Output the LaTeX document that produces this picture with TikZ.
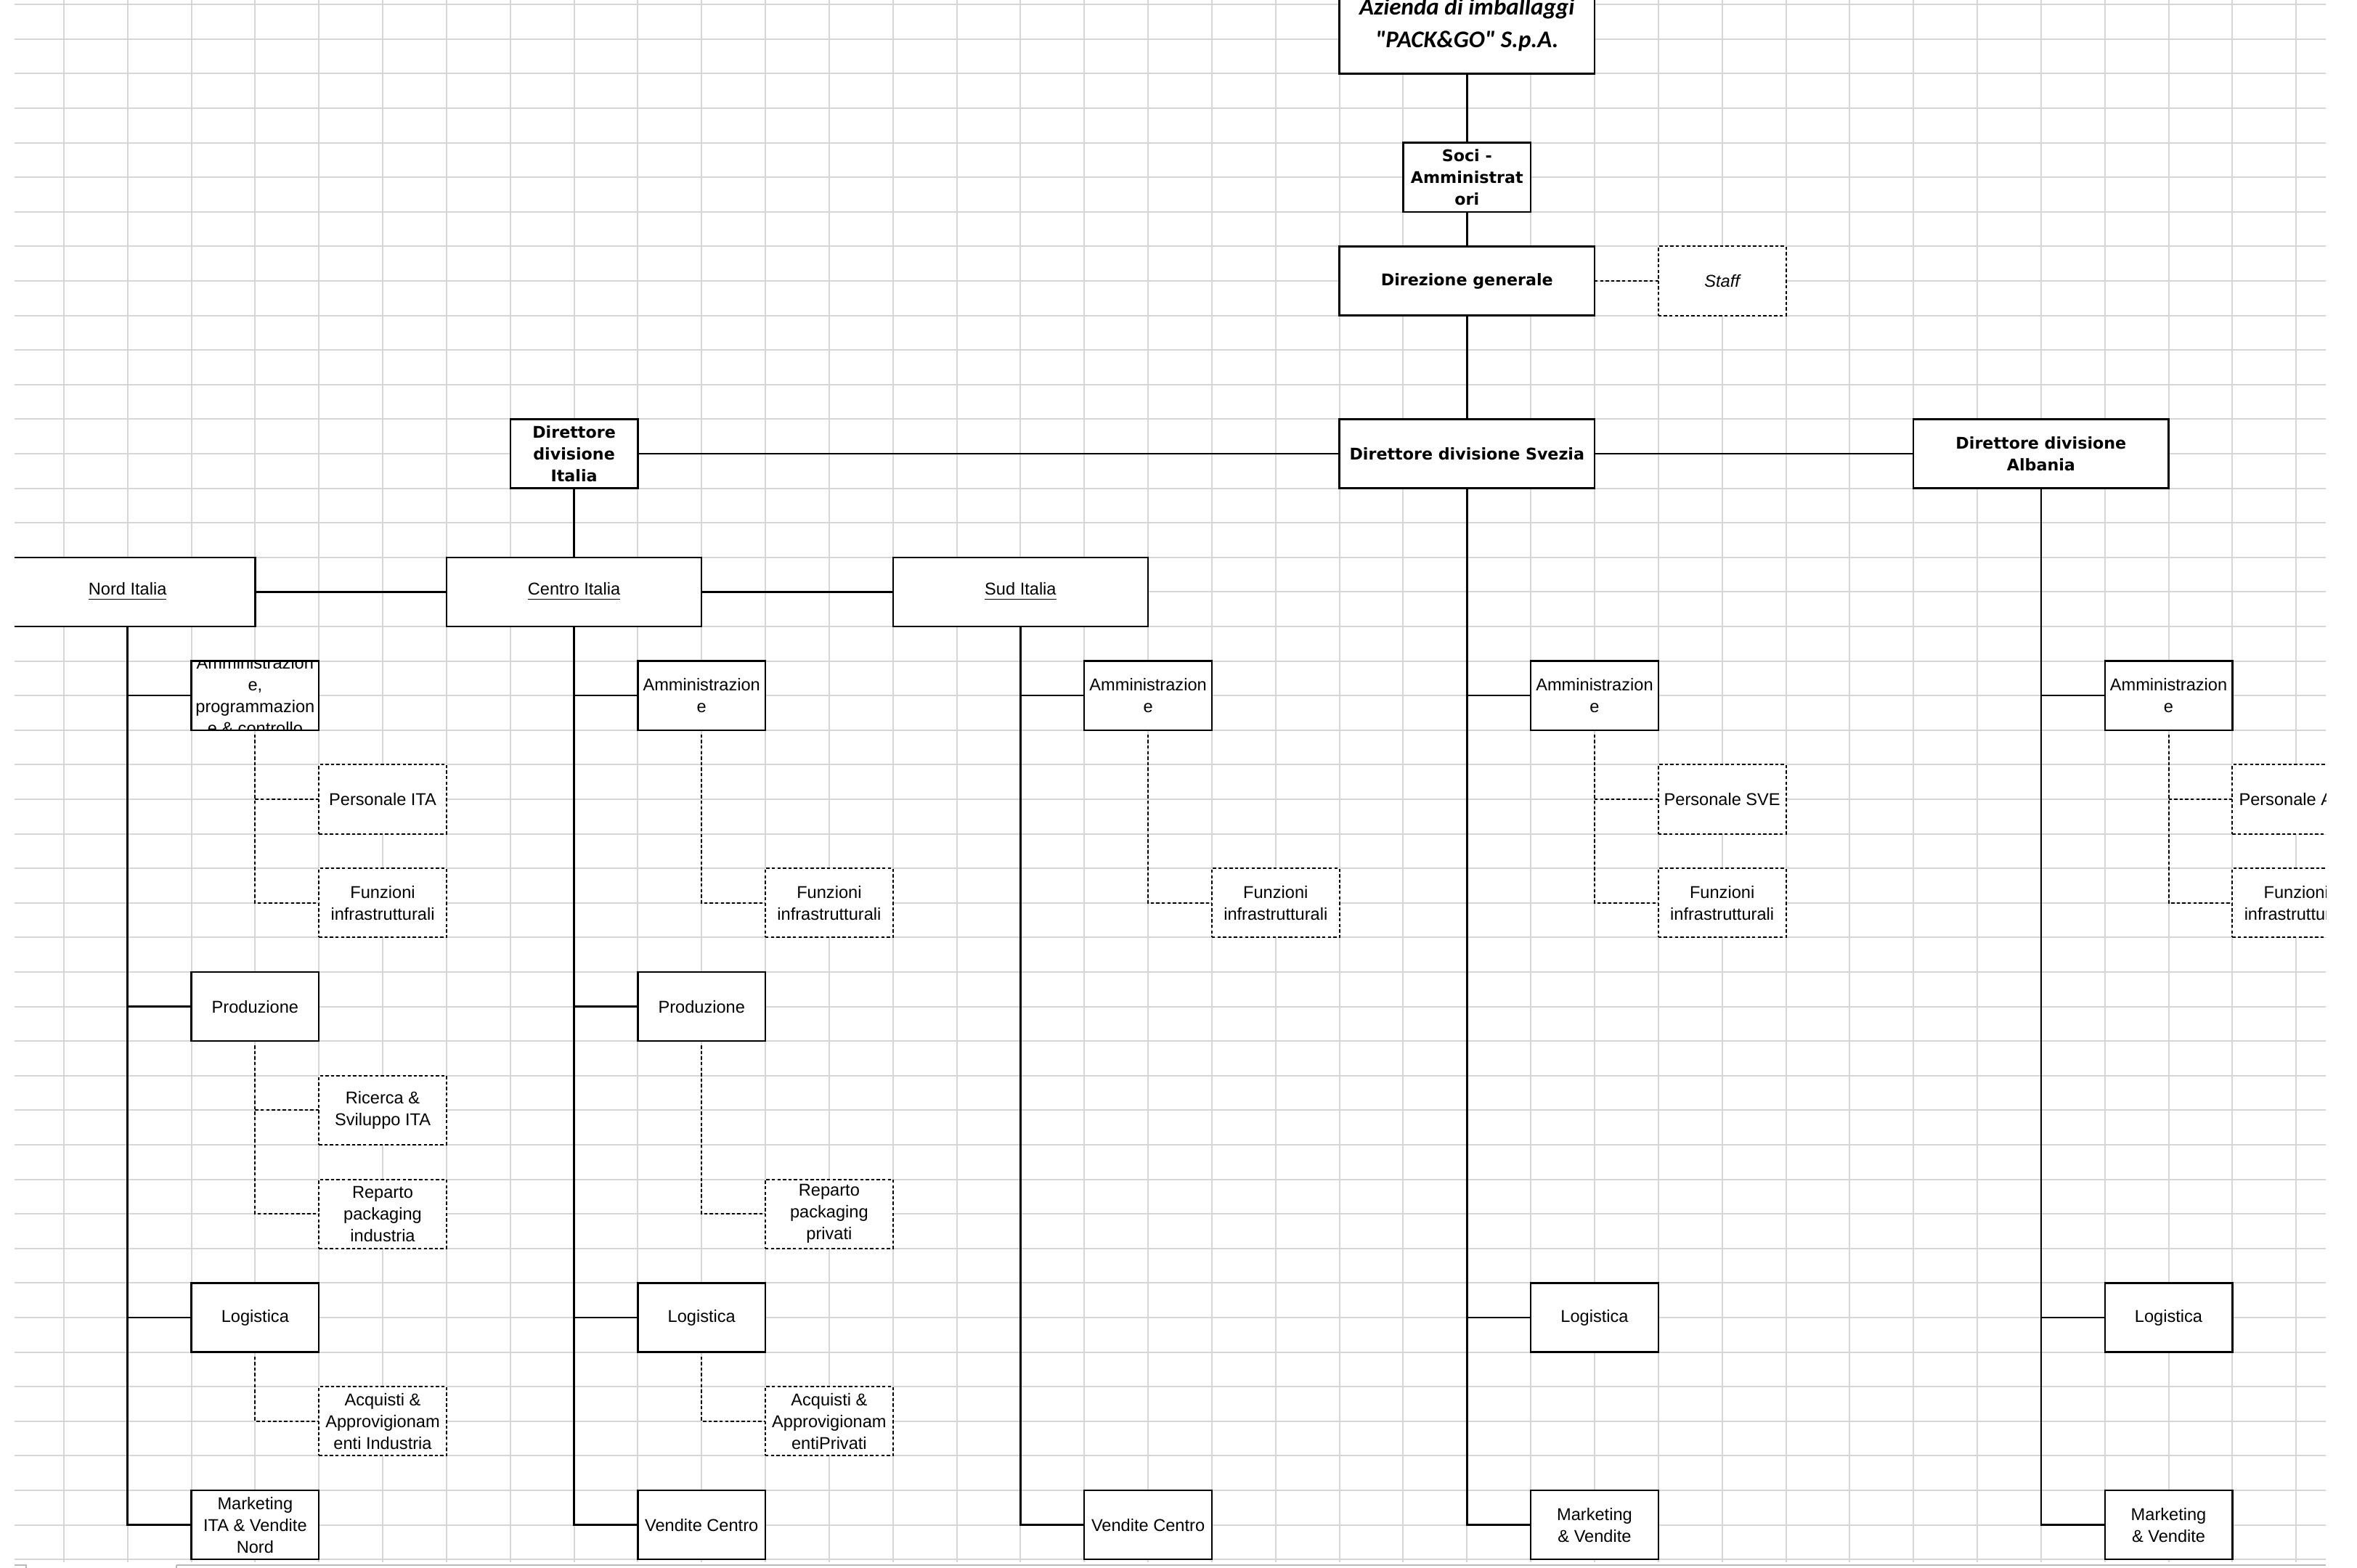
\documentclass[tikz,border=0pt]{standalone}
\usepackage{fontspec}
\setmainfont{Liberation Sans}
\newfontfamily\ttlfam{DejaVu Sans}
\newfontfamily\topfam{Carlito}
\newcommand\mytxt{\fontsize{5.9pt}{7.5pt}\selectfont}
\newcommand\myttl{\ttlfam\bfseries\fontsize{5.55pt}{7.45pt}\selectfont}
\newcommand\mytop{\topfam\bfseries\itshape\fontsize{8.25pt}{11.25pt}\selectfont}
\definecolor{gridgray}{RGB}{214,214,214}
\tikzset{
  gridln/.style={draw=gridgray, line width=0.5pt},
  box/.style={draw, line width=0.6pt, fill=white, inner sep=0.4pt, outer sep=0pt, align=center, font=\mytxt},
  dbox/.style={box, line width=0.5pt, dash pattern=on 1.1pt off 0.8pt},
  ttl/.style={box, font=\myttl},
  w2/.style={minimum width=43.92pt},
  w4/.style={minimum width=87.84pt},
  h2/.style={minimum height=23.8pt},
  h3/.style={minimum height=35.7pt},
  conn/.style={line width=0.6pt},
  dconn/.style={line width=0.5pt, dash pattern=on 1.1pt off 0.8pt},
}
\begin{document}
\begin{tikzpicture}[x=21.96pt, y=-11.9pt]
\useasboundingbox (0,-0.1303) rectangle (36.954,45.248);
\begin{scope}
\clip (0.2277,-0.2) rectangle (36.466,45.08);
% spreadsheet grid
\foreach \c in {1,...,36} \draw[gridln] (\c,-0.2) -- (\c,45.08);
\foreach \r in {0,...,45} \draw[gridln] (0,\r) -- (37,\r);

% top levels
\node[box, w4, h3, path picture={\node[font=\mytop, align=center, yshift=-1pt] at (path picture bounding box.center) {Azienda di imballaggi\\"PACK\&GO" S.p.A.};}] (top) at (23,0.5) {};
\node[ttl, w2, h2] (soci) at (23,5) {Soci -\\Amministrat\\ori};
\node[ttl, w4, h2] (dg) at (23,8) {Direzione generale};
\node[dbox, w2, h2] (staff) at (27,8) {\itshape Staff};
\node[ttl, w2, h2] (ita) at (9,13) {Direttore\\divisione\\Italia};
\node[ttl, w4, h2] (sve) at (23,13) {Direttore divisione Svezia};
\node[ttl, w4, h2] (alb) at (32,13) {Direttore divisione\\Albania};
\node[box, w4, h2] (nord) at (2,17) {\underline{Nord Italia}};
\node[box, w4, h2] (cen) at (9,17) {\underline{Centro Italia}};
\node[box, w4, h2] (sud) at (16,17) {\underline{Sud Italia}};

% Nord Italia
\node[box, w2, h2, path picture={\node[font=\mytxt, align=center] at (path picture bounding box.center) {Amministrazion\\e,\\programmazion\\e \& controllo};}] (nAmm) at (4,20) {};
\node[dbox, w2, h2] (nPers) at (6,23) {Personale ITA};
\node[dbox, w2, h2] (nFunz) at (6,26) {Funzioni\\infrastrutturali};
\node[box, w2, h2] (nProd) at (4,29) {Produzione};
\node[dbox, w2, h2] (nRic) at (6,32) {Ricerca \&\\Sviluppo ITA};
\node[dbox, w2, h2] (nRep) at (6,35) {Reparto\\packaging\\industria};
\node[box, w2, h2] (nLog) at (4,38) {Logistica};
\node[dbox, w2, h2] (nAcq) at (6,41) {Acquisti \&\\Approvigionam\\enti Industria};
\node[box, w2, h2] (nMkt) at (4,44) {Marketing\\ITA \& Vendite\\Nord};

% Centro Italia
\node[box, w2, h2] (cAmm) at (11,20) {Amministrazion\\e};
\node[dbox, w2, h2] (cFunz) at (13,26) {Funzioni\\infrastrutturali};
\node[box, w2, h2] (cProd) at (11,29) {Produzione};
\node[dbox, w2, h2] (cRep) at (13,35) {Reparto\\packaging\\privati};
\node[box, w2, h2] (cLog) at (11,38) {Logistica};
\node[dbox, w2, h2] (cAcq) at (13,41) {Acquisti \&\\Approvigionam\\entiPrivati};
\node[box, w2, h2] (cVen) at (11,44) {Vendite Centro};

% Sud Italia
\node[box, w2, h2] (sAmm) at (18,20) {Amministrazion\\e};
\node[dbox, w2, h2] (sFunz) at (20,26) {Funzioni\\infrastrutturali};
\node[box, w2, h2] (sVen) at (18,44) {Vendite Centro};

% Svezia
\node[box, w2, h2] (vAmm) at (25,20) {Amministrazion\\e};
\node[dbox, w2, h2] (vPers) at (27,23) {Personale SVE};
\node[dbox, w2, h2] (vFunz) at (27,26) {Funzioni\\infrastrutturali};
\node[box, w2, h2] (vLog) at (25,38) {Logistica};
\node[box, w2, h2] (vMkt) at (25,44) {Marketing\\\& Vendite};

% Albania
\node[box, w2, h2] (aAmm) at (34,20) {Amministrazion\\e};
\node[dbox, w2, h2] (aPers) at (36,23) {Personale ALB};
\node[dbox, w2, h2] (aFunz) at (36,26) {Funzioni\\infrastrutturali};
\node[box, w2, h2] (aLog) at (34,38) {Logistica};
\node[box, w2, h2] (aMkt) at (34,44) {Marketing\\\& Vendite};

% solid connectors
\draw[conn] (top.south) -- (soci.north);
\draw[conn] (soci.south) -- (dg.north);
\draw[conn] (dg.south) -- (sve.north);
\draw[conn] (ita.east) -- (sve.west);
\draw[conn] (sve.east) -- (alb.west);
\draw[conn] (ita.south) -- (cen.north);
\draw[conn] (nord.east) -- (cen.west);
\draw[conn] (cen.east) -- (sud.west);
\foreach \ch in {nAmm,nProd,nLog,nMkt} \draw[conn] (nord.south) |- (\ch.west);
\foreach \ch in {cAmm,cProd,cLog,cVen} \draw[conn] (cen.south) |- (\ch.west);
\foreach \ch in {sAmm,sVen} \draw[conn] (sud.south) |- (\ch.west);
\foreach \ch in {vAmm,vLog,vMkt} \draw[conn] (sve.south) |- (\ch.west);
\foreach \ch in {aAmm,aLog,aMkt} \draw[conn] (alb.south) |- (\ch.west);

% dotted connectors
\draw[dconn] (dg.east) -- (staff.west);
\draw[dconn] ([yshift=-1.5pt]nAmm.south) |- (nFunz.west);
\draw[dconn] (nAmm.south |- nPers.west) -- (nPers.west);
\draw[dconn] ([yshift=-1.5pt]nProd.south) |- (nRep.west);
\draw[dconn] (nProd.south |- nRic.west) -- (nRic.west);
\draw[dconn] ([yshift=-1.5pt]nLog.south) |- (nAcq.west);
\draw[dconn] ([yshift=-1.5pt]cAmm.south) |- (cFunz.west);
\draw[dconn] ([yshift=-1.5pt]cProd.south) |- (cRep.west);
\draw[dconn] ([yshift=-1.5pt]cLog.south) |- (cAcq.west);
\draw[dconn] ([yshift=-1.5pt]sAmm.south) |- (sFunz.west);
\draw[dconn] ([yshift=-1.5pt]vAmm.south) |- (vFunz.west);
\draw[dconn] (vAmm.south |- vPers.west) -- (vPers.west);
\draw[dconn] ([yshift=-1.5pt]aAmm.south) |- (aFunz.west);
\draw[dconn] (aAmm.south |- aPers.west) -- (aPers.west);
\end{scope}
% bottom scrollbar edge
\draw[draw=gray!55, line width=0.5pt] (2.77,45.158) -- (36.466,45.158);
\draw[draw=gray!55, line width=0.5pt] (2.77,45.158) -- (2.77,45.3);
\draw[draw=gray!55, line width=0.5pt] (0.2277,45.158) -- (0.41,45.158) -- (0.41,45.3);
\end{tikzpicture}
\end{document}
